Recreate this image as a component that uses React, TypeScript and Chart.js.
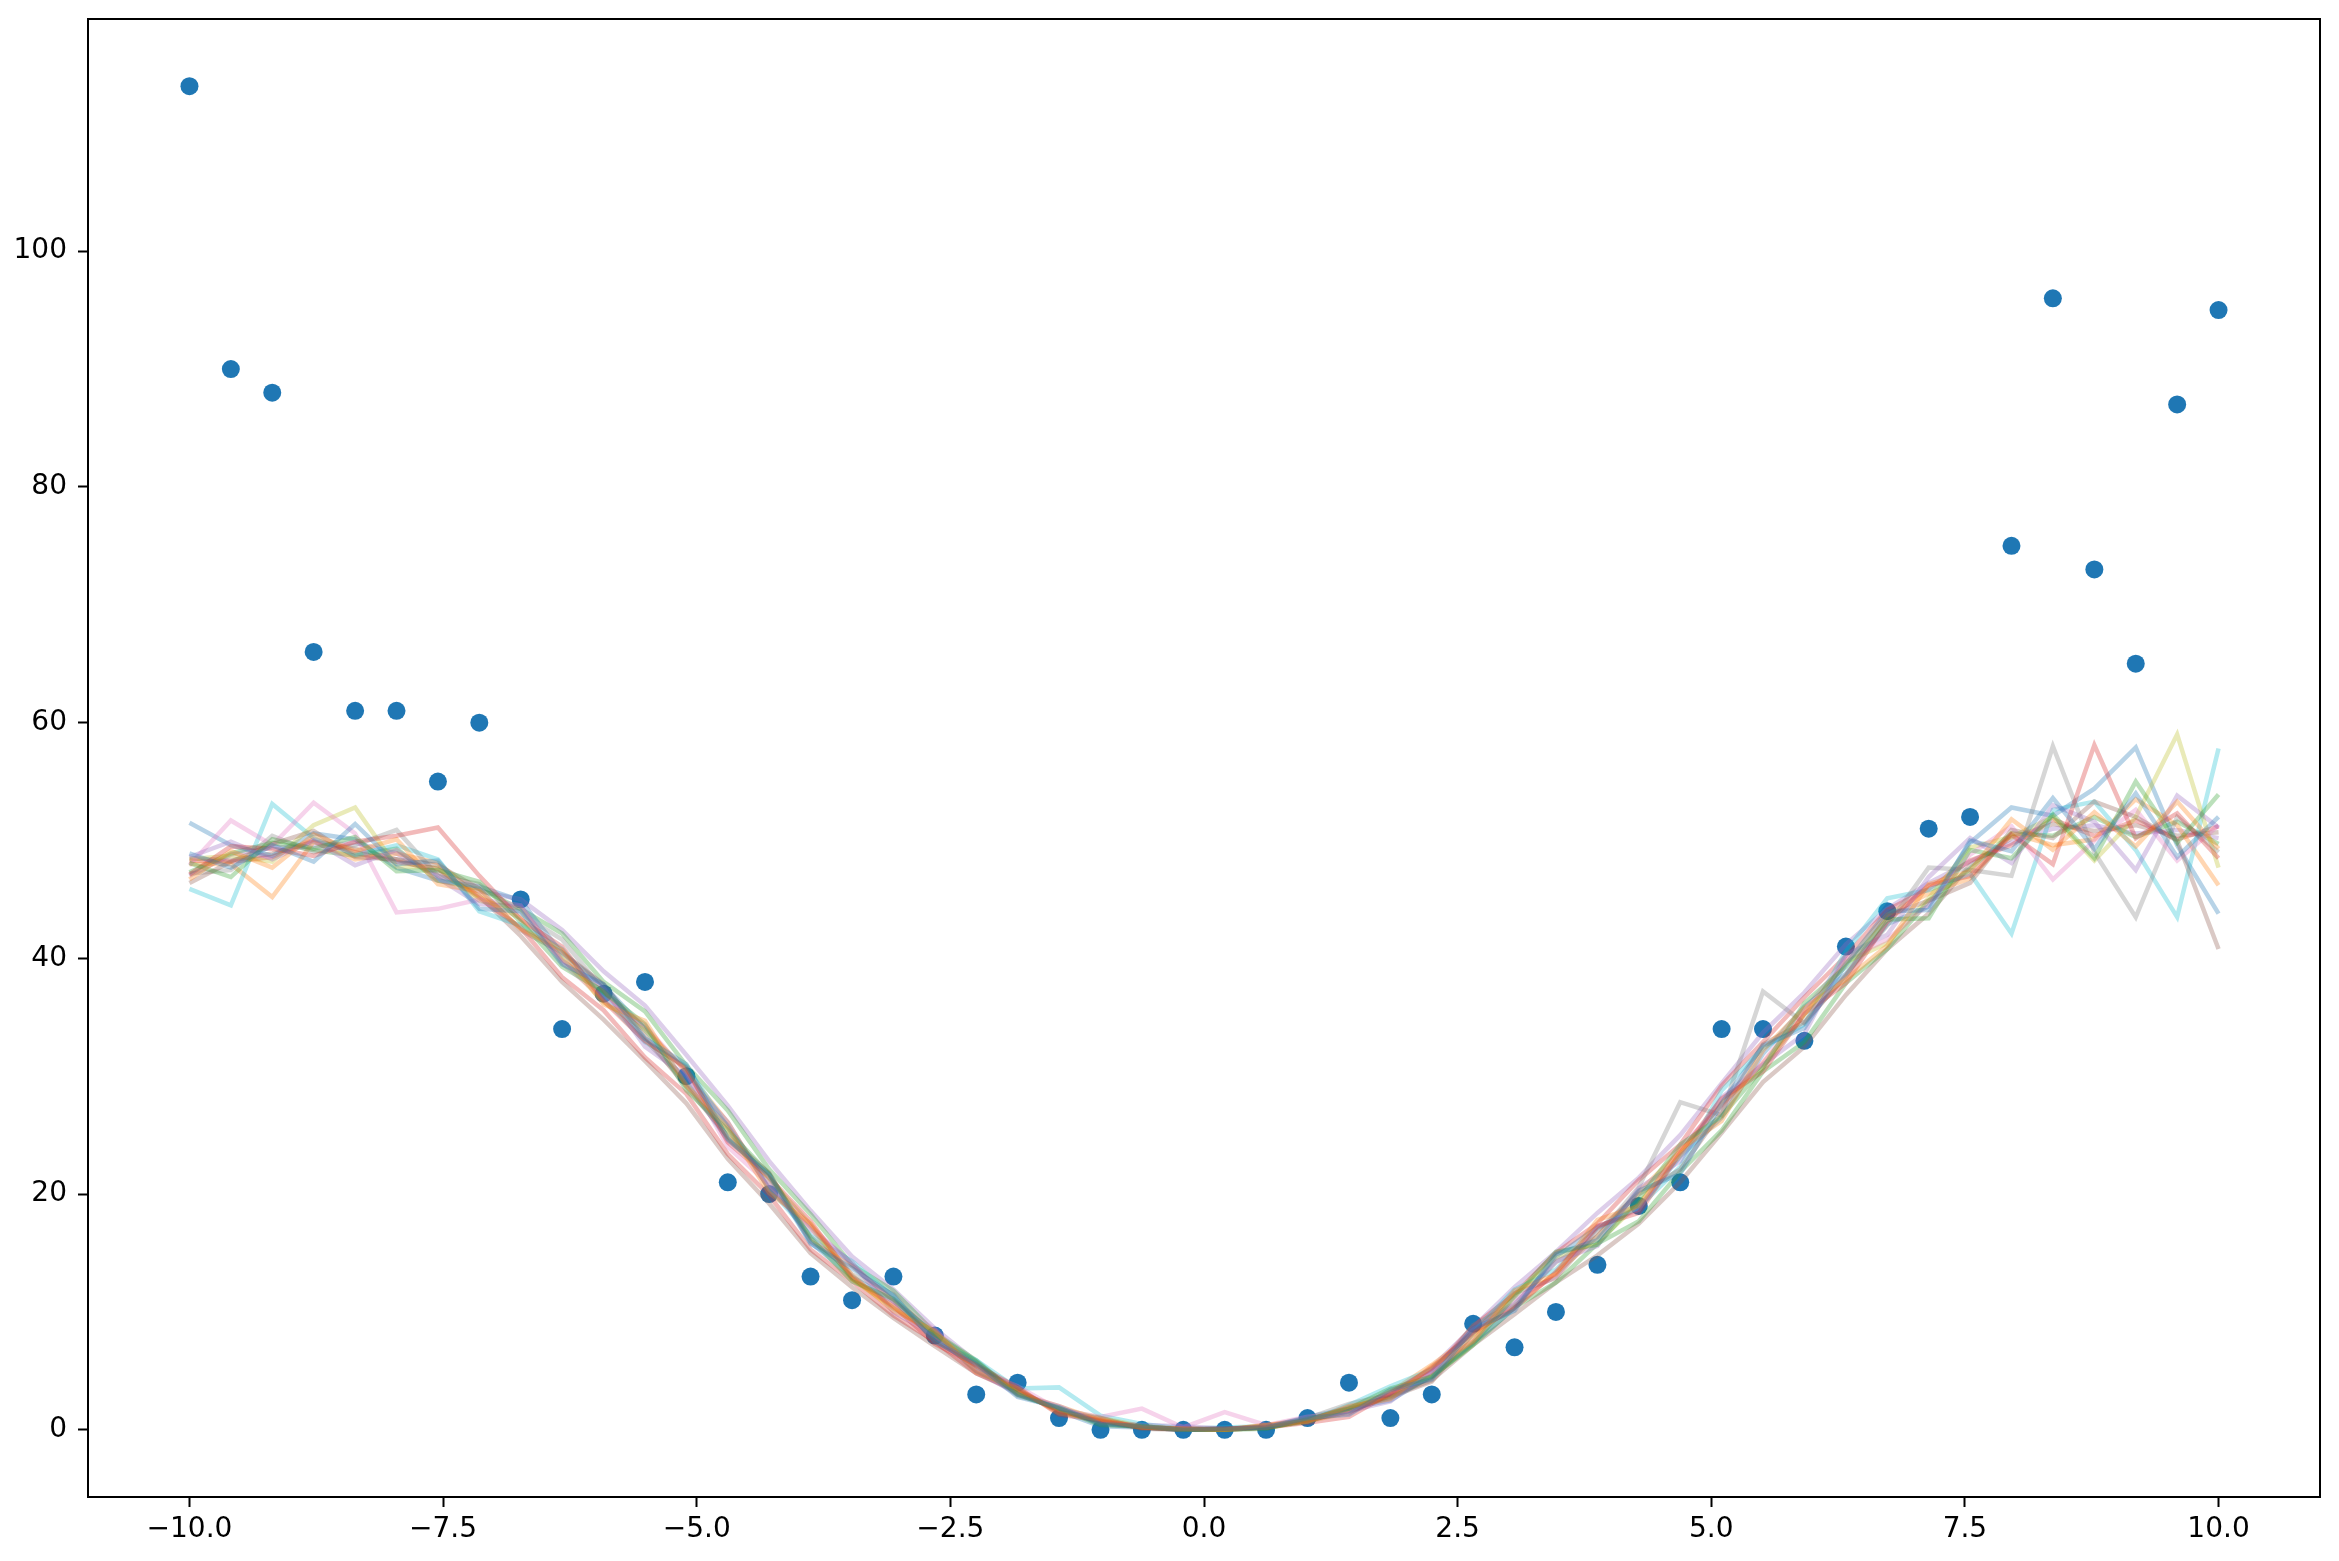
import React, { useEffect, useRef } from "react";
import { Chart, registerables } from "chart.js";

Chart.register(...registerables);

const XS = [
  -10.0, -9.592, -9.184, -8.776, -8.367, -7.959, -7.551, -7.143, -6.735, -6.327,
  -5.918, -5.51, -5.102, -4.694, -4.286, -3.878, -3.469, -3.061, -2.653, -2.245,
  -1.837, -1.429, -1.02, -0.612, -0.204, 0.204, 0.612, 1.02, 1.429, 1.837,
  2.245, 2.653, 3.061, 3.469, 3.878, 4.286, 4.694, 5.102, 5.51, 5.918,
  6.327, 6.735, 7.143, 7.551, 7.959, 8.367, 8.776, 9.184, 9.592, 10.0,
];

const OBSERVED = [
  114, 90, 88, 66, 61, 61, 55, 60, 45, 34,
  37, 38, 30, 21, 20, 13, 11, 13, 8, 3,
  4, 1, 0, 0, 0, 0, 0, 1, 4, 1,
  3, 9, 7, 10, 14, 19, 21, 34, 34, 33,
  41, 44, 51, 52, 75, 96, 73, 65, 87, 95,
];

const SAMPLE_1 = [48.9, 47.7, 49.6, 48.2, 51.4, 48.0, 48.3, 44.2, 44.0, 39.5, 37.8, 33.2, 31.0, 24.7, 21.6, 15.8, 13.7, 11.4, 7.5, 5.6, 2.8, 1.9, 0.5, 0.3, 0.0, 0.1, 0.2, 1.0, 1.3, 3.4, 4.3, 8.6, 10.1, 14.9, 16.1, 20.3, 21.7, 27.7, 32.6, 34.1, 39.5, 44.0, 44.1, 50.0, 49.1, 53.6, 49.3, 54.0, 48.6, 52.0];
const SAMPLE_2 = [46.7, 49.1, 47.7, 50.5, 49.1, 50.1, 46.3, 45.7, 42.5, 40.7, 36.1, 34.7, 29.2, 25.6, 20.1, 17.5, 13.1, 10.1, 8.4, 4.9, 3.5, 1.4, 0.9, 0.2, 0.1, 0.0, 0.4, 0.7, 2.0, 2.6, 5.4, 7.5, 11.8, 13.2, 17.8, 19.0, 23.8, 26.2, 32.2, 35.8, 38.2, 41.1, 46.3, 47.4, 51.8, 49.2, 52.4, 49.5, 53.3, 49.3];
const SAMPLE_3 = [48.1, 46.9, 50.1, 49.3, 50.3, 47.4, 47.5, 46.5, 43.1, 39.3, 37.2, 34.4, 28.8, 25.4, 21.7, 16.3, 12.6, 11.1, 8.1, 5.8, 3.0, 1.8, 0.4, 0.3, 0.0, 0.0, 0.1, 0.9, 1.8, 3.5, 4.5, 7.3, 11.3, 15.1, 15.7, 19.6, 24.2, 26.6, 30.7, 36.2, 39.3, 43.3, 43.4, 49.2, 48.5, 52.2, 48.5, 55.0, 49.8, 53.9];
const SAMPLE_4 = [47.1, 49.5, 49.3, 48.7, 49.9, 50.4, 51.1, 47.0, 43.3, 41.0, 36.4, 33.0, 30.7, 24.4, 21.4, 17.7, 12.9, 10.5, 7.3, 5.5, 3.6, 1.3, 0.8, 0.2, 0.1, 0.1, 0.2, 0.6, 1.1, 3.1, 5.2, 8.3, 10.3, 13.4, 17.3, 18.4, 23.5, 28.1, 30.4, 35.3, 37.9, 43.1, 46.2, 47.0, 50.5, 48.0, 58.1, 50.2, 52.3, 48.5];
const SAMPLE_5 = [48.6, 49.9, 48.4, 50.0, 47.9, 49.2, 46.8, 44.6, 44.4, 39.8, 37.5, 32.5, 30.0, 26.1, 20.4, 17.0, 14.2, 10.0, 8.0, 5.0, 3.0, 2.0, 0.6, 0.4, 0.3, 0.1, 0.2, 0.9, 1.6, 2.4, 5.0, 8.5, 10.6, 14.3, 15.6, 20.5, 22.8, 28.2, 31.0, 33.6, 40.3, 42.0, 46.9, 50.2, 48.1, 53.0, 51.6, 47.5, 53.8, 51.1];
const SAMPLE_6 = [46.4, 48.2, 49.7, 50.8, 48.6, 48.4, 47.9, 45.9, 42.4, 40.5, 37.8, 33.4, 29.1, 24.9, 21.8, 16.0, 13.9, 11.0, 7.6, 5.4, 3.4, 1.5, 1.0, 0.1, 0.0, 0.1, 0.3, 0.8, 1.9, 2.8, 4.1, 8.2, 11.6, 12.9, 16.9, 20.0, 22.1, 27.0, 32.7, 34.6, 38.5, 43.6, 44.9, 46.4, 50.9, 50.2, 53.3, 52.0, 50.0, 40.8];
const SAMPLE_7 = [47.9, 51.7, 49.6, 53.2, 50.6, 43.9, 44.2, 45.0, 44.5, 39.6, 36.6, 34.3, 30.3, 24.0, 20.8, 17.3, 14.0, 10.9, 8.5, 5.1, 3.7, 1.7, 1.1, 1.8, 0.2, 1.5, 0.4, 1.1, 1.4, 3.2, 4.9, 7.6, 11.1, 13.0, 17.2, 18.7, 24.0, 27.5, 31.2, 35.6, 39.9, 41.6, 44.6, 48.8, 51.2, 46.7, 50.0, 52.6, 48.3, 51.3];
const SAMPLE_8 = [47.2, 47.5, 50.4, 49.0, 49.6, 50.9, 47.0, 46.3, 43.8, 41.6, 37.3, 33.1, 29.4, 25.8, 20.9, 16.4, 13.2, 11.5, 7.7, 5.7, 2.9, 1.9, 0.5, 0.2, 0.0, 0.0, 0.3, 1.0, 2.2, 3.0, 4.4, 8.9, 10.7, 14.2, 16.4, 20.6, 27.8, 26.7, 37.2, 34.5, 38.6, 42.8, 47.7, 47.5, 47.0, 58.0, 49.0, 43.5, 52.0, 49.0];
const SAMPLE_9 = [48.4, 48.7, 48.2, 51.3, 52.8, 47.8, 47.7, 44.9, 44.2, 40.0, 36.3, 33.9, 30.5, 24.8, 21.3, 17.4, 12.8, 10.3, 8.3, 5.1, 3.2, 1.8, 1.0, 0.3, 0.1, 0.0, 0.2, 0.7, 1.5, 3.3, 4.6, 7.7, 11.4, 14.6, 15.9, 19.2, 23.3, 27.7, 30.8, 35.2, 39.7, 41.3, 45.1, 49.4, 50.3, 52.0, 48.3, 52.0, 59.0, 47.7];
const SAMPLE_10 = [45.9, 44.5, 53.1, 50.2, 48.8, 49.6, 48.4, 44.0, 42.8, 40.8, 36.7, 32.9, 30.8, 25.7, 20.5, 16.5, 14.3, 11.3, 7.5, 5.9, 3.5, 3.6, 1.2, 0.5, 0.1, 0.2, 0.3, 0.7, 2.1, 3.7, 5.1, 8.3, 11.9, 13.6, 17.1, 18.9, 22.3, 28.8, 32.4, 34.4, 40.6, 45.1, 45.8, 47.2, 42.1, 52.6, 53.3, 49.2, 43.5, 57.8];
const SAMPLE_11 = [51.5, 49.6, 48.7, 50.6, 50.1, 47.7, 46.6, 46.1, 44.9, 40.4, 37.7, 34.0, 29.5, 24.6, 21.7, 15.9, 13.0, 10.9, 8.2, 5.0, 3.4, 1.6, 0.3, 0.2, 0.0, 0.1, 0.2, 1.1, 1.8, 2.5, 4.6, 7.4, 10.3, 14.7, 17.2, 18.8, 23.2, 26.5, 31.9, 35.9, 38.7, 42.9, 44.4, 49.8, 52.8, 52.1, 54.4, 57.9, 49.6, 43.8];
const SAMPLE_12 = [48.0, 48.0, 45.2, 49.9, 48.4, 48.9, 48.1, 45.2, 43.4, 39.9, 37.1, 34.1, 30.4, 26.1, 20.4, 17.2, 12.8, 10.4, 8.0, 5.4, 3.1, 2.0, 0.8, 0.3, 0.0, 0.0, 0.4, 0.9, 1.7, 3.2, 5.5, 8.1, 10.5, 13.3, 16.4, 20.2, 23.6, 27.6, 31.1, 35.3, 39.6, 43.7, 45.5, 46.8, 50.6, 49.6, 50.1, 53.5, 51.3, 46.2];
const SAMPLE_13 = [47.3, 48.9, 49.8, 49.2, 48.7, 49.3, 46.6, 45.9, 44.2, 42.1, 38.0, 35.5, 30.9, 27.1, 22.1, 18.3, 14.0, 11.8, 8.2, 5.9, 3.0, 1.8, 0.6, 0.2, 0.0, 0.1, 0.2, 0.7, 1.8, 2.7, 4.5, 7.2, 10.4, 12.5, 15.8, 17.7, 21.9, 25.4, 30.4, 32.9, 37.9, 40.8, 44.9, 47.6, 50.6, 50.4, 52.0, 50.3, 51.6, 49.7];
const SAMPLE_14 = [48.3, 48.2, 48.6, 50.1, 49.0, 48.2, 47.6, 45.1, 42.6, 38.4, 35.6, 31.6, 28.5, 23.4, 19.9, 15.3, 12.6, 9.7, 7.5, 4.8, 3.3, 1.6, 0.7, 0.2, 0.1, 0.0, 0.2, 0.8, 1.5, 3.0, 4.9, 8.8, 11.5, 15.0, 17.5, 21.2, 24.2, 29.2, 32.9, 36.7, 40.2, 44.1, 45.9, 48.3, 49.6, 51.8, 50.4, 51.7, 50.1, 51.2];
const SAMPLE_15 = [47.0, 48.8, 49.4, 49.5, 49.8, 48.9, 47.0, 45.7, 45.0, 42.4, 38.9, 36.0, 31.8, 27.5, 22.8, 18.6, 14.7, 11.9, 8.6, 5.8, 3.1, 1.7, 0.7, 0.2, 0.0, 0.0, 0.2, 0.8, 1.6, 2.9, 5.3, 8.7, 12.1, 15.1, 18.4, 21.4, 25.0, 29.4, 33.7, 37.1, 41.2, 44.2, 46.4, 48.2, 49.8, 51.0, 51.3, 50.6, 50.9, 50.2];
const SAMPLE_16 = [48.5, 48.3, 48.9, 49.9, 49.3, 48.4, 47.3, 45.3, 41.9, 38.0, 34.8, 31.3, 27.7, 23.0, 19.2, 15.0, 12.1, 9.5, 7.1, 4.8, 3.2, 1.7, 0.7, 0.2, 0.0, 0.0, 0.2, 0.8, 1.6, 2.9, 4.2, 7.2, 9.8, 12.5, 14.8, 17.5, 21.0, 25.2, 29.5, 32.5, 36.9, 40.8, 43.8, 47.9, 50.2, 51.4, 50.8, 51.3, 50.4, 50.7];

const SAMPLES = [
  SAMPLE_1, SAMPLE_2, SAMPLE_3, SAMPLE_4, SAMPLE_5, SAMPLE_6, SAMPLE_7, SAMPLE_8,
  SAMPLE_9, SAMPLE_10, SAMPLE_11, SAMPLE_12, SAMPLE_13, SAMPLE_14, SAMPLE_15, SAMPLE_16,
];

const X_TICKS = [-10, -7.5, -5, -2.5, 0, 2.5, 5, 7.5, 10];
const Y_TICKS = [0, 20, 40, 60, 80, 100];

const TAB10 = [
  [31, 119, 180], [255, 127, 14], [44, 160, 44], [214, 39, 40], [148, 103, 189],
  [140, 86, 75], [227, 119, 194], [127, 127, 127], [188, 189, 34], [23, 190, 207],
];

const W = 2339;
const H = 1561;

const framePlugin = {
  id: "frame",
  afterDraw(chart: any) {
    const { ctx, chartArea } = chart;
    ctx.save();
    ctx.strokeStyle = "#000";
    ctx.lineWidth = 2;
    ctx.strokeRect(chartArea.left, chartArea.top, chartArea.right - chartArea.left, chartArea.bottom - chartArea.top);
    ctx.restore();
  },
};

export default function App() {
  const ref = useRef<HTMLCanvasElement | null>(null);

  useEffect(() => {
    document.body.style.margin = "0";
    document.body.style.overflow = "hidden";
    const canvas = ref.current;
    if (!canvas) return;

    const lineSets = SAMPLES.map((s, i) => {
      const c = TAB10[i % TAB10.length];
      return {
        type: "line" as const,
        data: XS.map((x, j) => ({ x, y: s[j] })),
        borderColor: `rgba(${c[0]},${c[1]},${c[2]},0.32)`,
        backgroundColor: "transparent",
        borderWidth: 4.5,
        pointRadius: 0,
        tension: 0,
        fill: false,
        order: 0,
      };
    });

    const scatterSet = {
      type: "scatter" as const,
      data: XS.map((x, j) => ({ x, y: OBSERVED[j] })),
      backgroundColor: "#1f77b4",
      borderColor: "#1f77b4",
      borderWidth: 0,
      pointRadius: 9,
      order: 1,
    };

    const font = { family: "'DejaVu Sans'", size: 28 };

    const chart = new Chart(canvas, {
      type: "scatter",
      data: { datasets: [scatterSet as any, ...lineSets] },
      options: {
        animation: false,
        responsive: false,
        devicePixelRatio: 1,
        layout: { padding: { top: 19, right: 19, left: 0, bottom: 0 } },
        plugins: { legend: { display: false }, tooltip: { enabled: false } },
        scales: {
          x: {
            type: "linear",
            min: -11,
            max: 11,
            afterBuildTicks: (scale: any) => {
              scale.ticks = X_TICKS.map((v) => ({ value: v }));
            },
            afterFit: (scale: any) => {
              scale.height = 64;
              scale.paddingLeft = 0;
              scale.paddingRight = 0;
            },
            ticks: {
              color: "#000",
              font,
              padding: 6,
              maxRotation: 0,
              autoSkip: false,
              callback: (v: any) => Number(v).toFixed(1).replace("-", "\u2212"),
            },
            grid: { drawOnChartArea: false, drawTicks: true, tickLength: 10, tickWidth: 2, tickColor: "#000" },
            border: { display: true, color: "#000", width: 2 },
          },
          y: {
            type: "linear",
            min: -5.7,
            max: 119.7,
            afterBuildTicks: (scale: any) => {
              scale.ticks = Y_TICKS.map((v) => ({ value: v }));
            },
            afterFit: (scale: any) => {
              scale.width = 88;
              scale.paddingTop = 0;
              scale.paddingBottom = 0;
            },
            ticks: {
              color: "#000",
              font,
              padding: 11,
              autoSkip: false,
              callback: (v: any) => String(v),
            },
            grid: { drawOnChartArea: false, drawTicks: true, tickLength: 10, tickWidth: 2, tickColor: "#000" },
            border: { display: true, color: "#000", width: 2 },
          },
        },
      },
      plugins: [framePlugin],
    });

    return () => chart.destroy();
  }, []);

  return (
    <div style={{ width: W, height: H, background: "#fff" }}>
      <canvas ref={ref} width={W} height={H} style={{ display: "block", width: W, height: H }} />
    </div>
  );
}
